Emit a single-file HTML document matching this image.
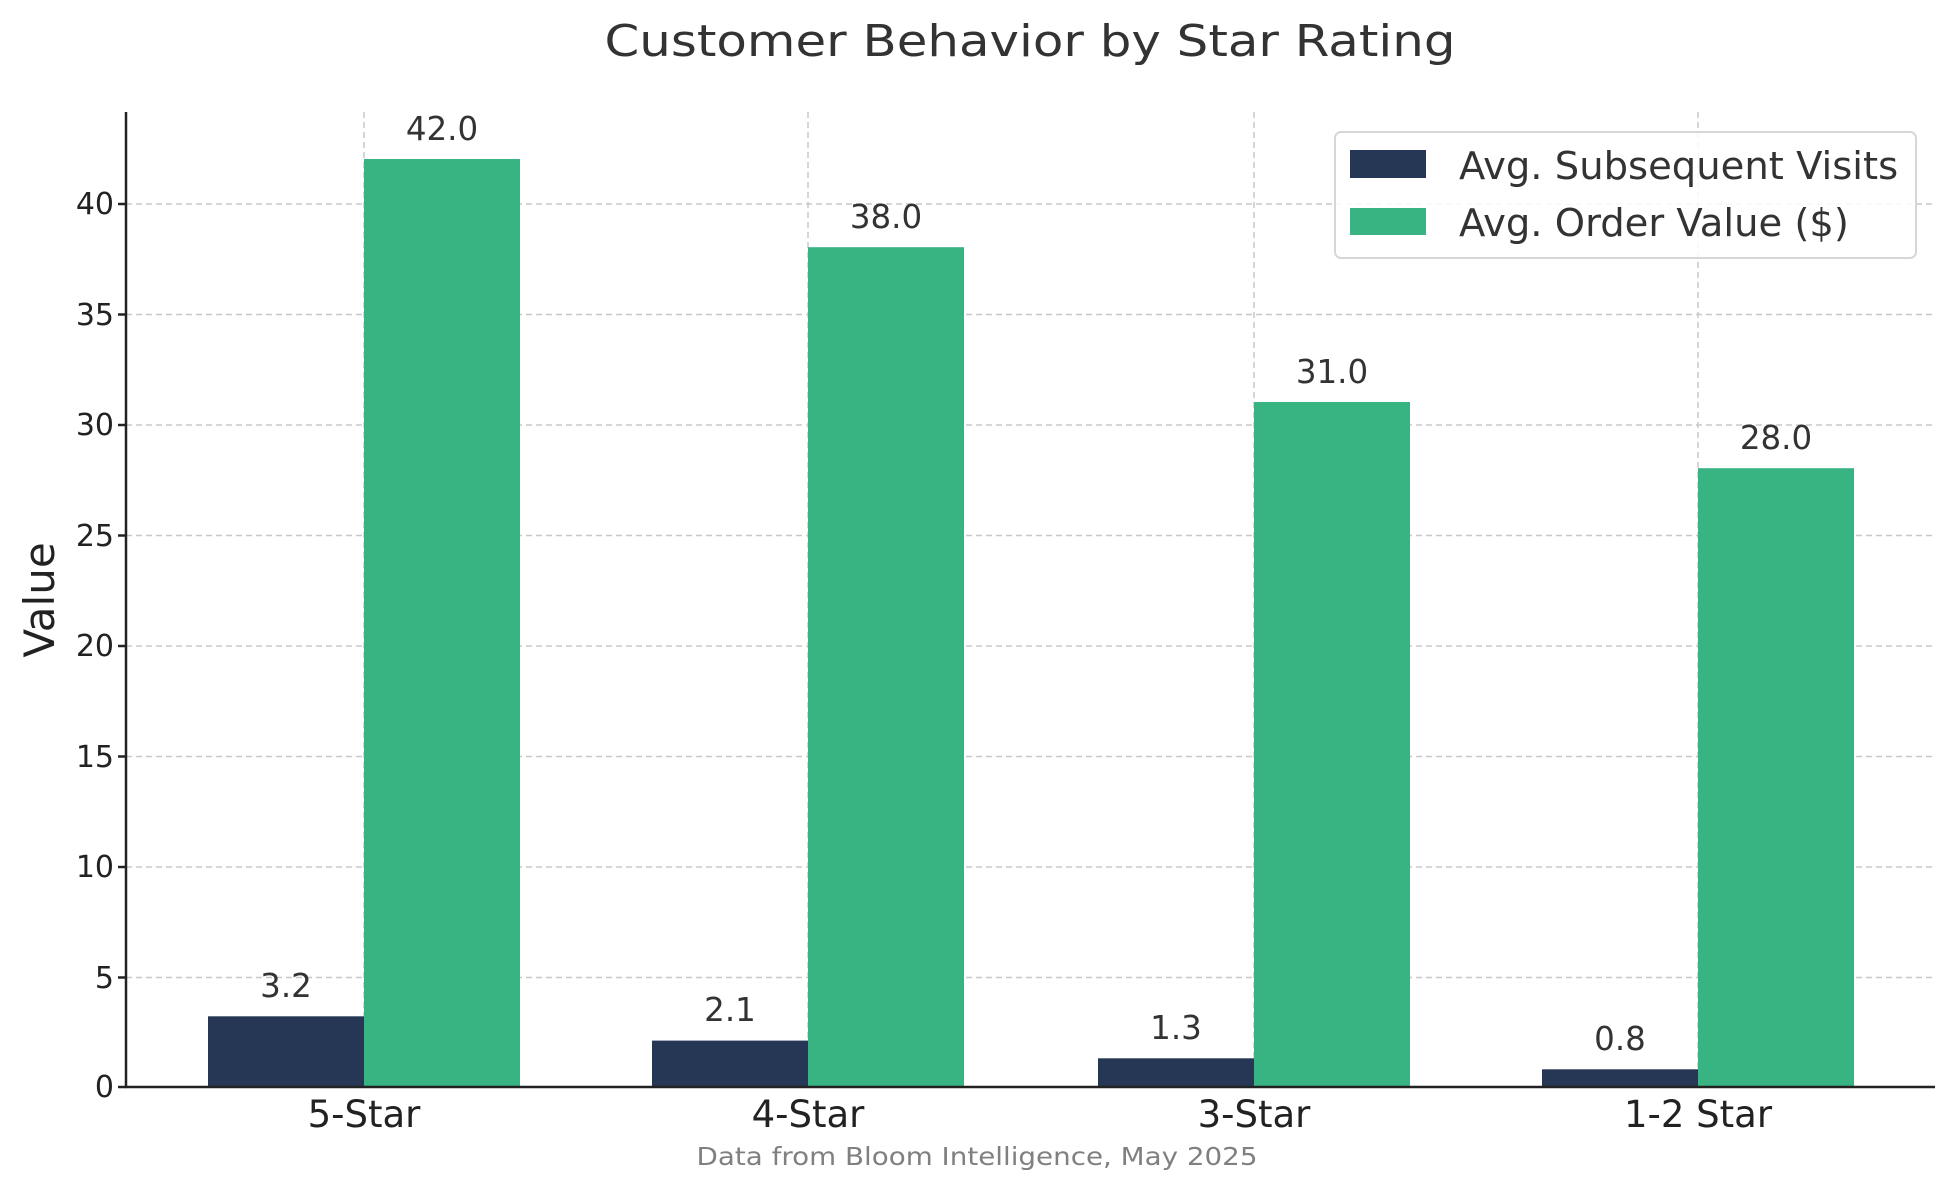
<!DOCTYPE html>
<html><head><meta charset="utf-8"><style>body{margin:0;background:#fff}svg{display:block}text{font-family:"DejaVu Sans","Liberation Sans",sans-serif}</style></head>
<body>
<svg width="1956" height="1191" viewBox="0 0 1956 1191" xmlns="http://www.w3.org/2000/svg">
<rect width="1956" height="1191" fill="#fff"/>
<text x="1030" y="56" font-size="44" fill="#333" text-anchor="middle" textLength="851" lengthAdjust="spacingAndGlyphs">Customer Behavior by Star Rating</text>
<g stroke="#c8c8c8" stroke-width="1.5" stroke-dasharray="6,4">
<line x1="126" x2="1935" y1="977.5" y2="977.5"/>
<line x1="126" x2="1935" y1="867" y2="867"/>
<line x1="126" x2="1935" y1="756.5" y2="756.5"/>
<line x1="126" x2="1935" y1="646" y2="646"/>
<line x1="126" x2="1935" y1="535.5" y2="535.5"/>
<line x1="126" x2="1935" y1="425" y2="425"/>
<line x1="126" x2="1935" y1="314.5" y2="314.5"/>
<line x1="126" x2="1935" y1="204" y2="204"/>
<line x1="364" x2="364" y1="112" y2="1087"/>
<line x1="808" x2="808" y1="112" y2="1087"/>
<line x1="1254" x2="1254" y1="112" y2="1087"/>
<line x1="1698" x2="1698" y1="112" y2="1087"/>
</g>
<g fill="#263756">
<rect x="208" y="1016.3" width="156" height="70.7"/>
<rect x="652" y="1040.6" width="156" height="46.4"/>
<rect x="1098" y="1058.3" width="156" height="28.7"/>
<rect x="1542" y="1069.3" width="156" height="17.7"/>
</g>
<g fill="#38b382">
<rect x="364" y="159" width="156" height="928"/>
<rect x="808" y="247.2" width="156" height="839.8"/>
<rect x="1254" y="402" width="156" height="685"/>
<rect x="1698" y="468.2" width="156" height="618.8"/>
</g>
<g font-size="32.5" fill="#333" text-anchor="middle">
<text x="442" y="140">42.0</text>
<text x="886" y="228">38.0</text>
<text x="1332" y="383">31.0</text>
<text x="1776" y="449">28.0</text>
<text x="286" y="997">3.2</text>
<text x="730" y="1021">2.1</text>
<text x="1176" y="1039">1.3</text>
<text x="1620" y="1050">0.8</text>
</g>
<g stroke="#222" stroke-width="2.5">
<line x1="126" x2="126" y1="112" y2="1088"/>
<line x1="125" x2="1935" y1="1087" y2="1087"/>
<line x1="118" x2="126" y1="1087" y2="1087"/>
<line x1="118" x2="126" y1="977.5" y2="977.5"/>
<line x1="118" x2="126" y1="867" y2="867"/>
<line x1="118" x2="126" y1="756.5" y2="756.5"/>
<line x1="118" x2="126" y1="646" y2="646"/>
<line x1="118" x2="126" y1="535.5" y2="535.5"/>
<line x1="118" x2="126" y1="425" y2="425"/>
<line x1="118" x2="126" y1="314.5" y2="314.5"/>
<line x1="118" x2="126" y1="204" y2="204"/>
</g>
<g font-size="30" fill="#222" text-anchor="end">
<text x="114" y="1097">0</text>
<text x="114" y="988">5</text>
<text x="114" y="877">10</text>
<text x="114" y="767">15</text>
<text x="114" y="656">20</text>
<text x="114" y="546">25</text>
<text x="114" y="435">30</text>
<text x="114" y="325">35</text>
<text x="114" y="214">40</text>
</g>
<g font-size="37" fill="#222" text-anchor="middle">
<text x="364" y="1127">5-Star</text>
<text x="808" y="1127">4-Star</text>
<text x="1254" y="1127">3-Star</text>
<text x="1698" y="1127">1-2 Star</text>
</g>
<text transform="translate(54,600) rotate(-90)" font-size="42" fill="#222" text-anchor="middle">Value</text>
<text x="977" y="1165" font-size="25" fill="#808080" text-anchor="middle" textLength="561" lengthAdjust="spacingAndGlyphs">Data from Bloom Intelligence, May 2025</text>
<rect x="1335" y="132" width="581" height="126" rx="6" fill="#fff" fill-opacity="0.85" stroke="#d6d6d6" stroke-width="2"/>
<rect x="1350" y="150" width="76" height="28" fill="#263756"/>
<rect x="1350" y="208" width="76" height="27" fill="#38b382"/>
<g font-size="38.5" fill="#333">
<text x="1459" y="179">Avg. Subsequent Visits</text>
<text x="1459" y="236">Avg. Order Value ($)</text>
</g>
</svg>
</body></html>
